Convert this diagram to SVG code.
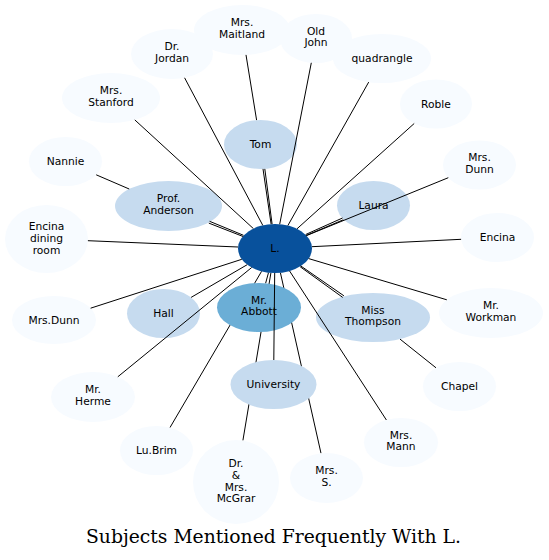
<svg xmlns="http://www.w3.org/2000/svg" width="549" height="560" viewBox="0 0 549 560">
<style>
.e{stroke:#000;stroke-width:1;fill:none}
.n0{fill:#f7fbff}
.n1{fill:#c6dbef}
.n2{fill:#6baed6}
.n3{fill:#08519c}
text{font-family:"DejaVu Sans","Noto Sans",sans-serif;font-size:10.7px;fill:#000;text-anchor:middle}
.t{font-family:"DejaVu Serif","Liberation Serif",serif;font-size:18px}
</style>
<rect width="549" height="560" fill="#fff"/>
<g id="connectors-back">
<line class="e" x1="270.9" y1="272.9" x2="242.9" y2="440.5"/>
<line class="e" x1="261.6" y1="271.3" x2="169.9" y2="427.7"/>
<line class="e" x1="268.5" y1="272.6" x2="265.6" y2="283.3"/>
<line class="e" x1="280.4" y1="272.7" x2="321.0" y2="453.3"/>
</g>
<g id="node-L"><ellipse class="n3" cx="275" cy="248.5" rx="37" ry="24.5"/><text x="275" y="252.3">L.</text></g>
<g id="node-Tom"><ellipse class="n1" cx="260.5" cy="144.5" rx="36.5" ry="24.5"/><text x="260.5" y="148.3">Tom</text></g>
<g id="node-Anderson"><ellipse class="n1" cx="168.5" cy="206" rx="53.5" ry="25"/><text x="168.5" y="202">Prof.<tspan x="168.5" dy="11.9">Anderson</tspan></text></g>
<g id="node-Laura"><ellipse class="n1" cx="373.5" cy="205.5" rx="36.5" ry="24.5"/><text x="373.5" y="209.3">Laura</text></g>
<g id="node-Thompson"><ellipse class="n1" cx="373" cy="317.5" rx="57" ry="24.5"/><text x="373" y="313.5">Miss<tspan x="373" dy="11.9">Thompson</tspan></text></g>
<g id="node-Abbott"><ellipse class="n2" cx="259" cy="307.5" rx="42" ry="24.5"/><text x="259" y="303.5">Mr.<tspan x="259" dy="11.9">Abbott</tspan></text></g>
<g id="node-Hall"><ellipse class="n1" cx="163.5" cy="313.5" rx="36.5" ry="24.5"/><text x="163.5" y="317.3">Hall</text></g>
<g id="node-University"><ellipse class="n1" cx="273.5" cy="384.5" rx="43" ry="24.5"/><text x="273.5" y="388.3">University</text></g>
<g id="node-Maitland"><ellipse class="n0" cx="242" cy="30" rx="48" ry="25"/><text x="242" y="26">Mrs.<tspan x="242" dy="11.9">Maitland</tspan></text></g>
<g id="node-Jordan"><ellipse class="n0" cx="172" cy="54" rx="41" ry="25"/><text x="172" y="50">Dr.<tspan x="172" dy="11.9">Jordan</tspan></text></g>
<g id="node-OldJohn"><ellipse class="n0" cx="316" cy="38.5" rx="36" ry="24.5"/><text x="316" y="34.5">Old<tspan x="316" dy="11.9">John</tspan></text></g>
<g id="node-quadrangle"><ellipse class="n0" cx="382" cy="58.5" rx="49" ry="24.5"/><text x="382" y="62.3">quadrangle</text></g>
<g id="node-Roble"><ellipse class="n0" cx="436" cy="104" rx="36" ry="24.5"/><text x="436" y="107.8">Roble</text></g>
<g id="node-Stanford"><ellipse class="n0" cx="111" cy="98" rx="49" ry="25"/><text x="111" y="94">Mrs.<tspan x="111" dy="11.9">Stanford</tspan></text></g>
<g id="node-Nannie"><ellipse class="n0" cx="65.5" cy="161.5" rx="36.5" ry="24.5"/><text x="65.5" y="165.3">Nannie</text></g>
<g id="node-EncinaDining"><ellipse class="n0" cx="46.5" cy="239" rx="41.5" ry="34"/><text x="46.5" y="230">Encina<tspan x="46.5" dy="11.9">dining</tspan><tspan x="46.5" dy="11.9">room</tspan></text></g>
<g id="node-MrsDunnR"><ellipse class="n0" cx="479.5" cy="165" rx="36.5" ry="24.5"/><text x="479.5" y="161">Mrs.<tspan x="479.5" dy="11.9">Dunn</tspan></text></g>
<g id="node-Encina"><ellipse class="n0" cx="497.5" cy="237.5" rx="36.5" ry="24.5"/><text x="497.5" y="241.3">Encina</text></g>
<g id="node-Workman"><ellipse class="n0" cx="491" cy="313" rx="52" ry="25"/><text x="491" y="309">Mr.<tspan x="491" dy="11.9">Workman</tspan></text></g>
<g id="node-MrsDunnL"><ellipse class="n0" cx="54" cy="320" rx="42" ry="24"/><text x="54" y="323.8">Mrs.Dunn</text></g>
<g id="node-Herme"><ellipse class="n0" cx="93" cy="397" rx="42" ry="25"/><text x="93" y="393">Mr.<tspan x="93" dy="11.9">Herme</tspan></text></g>
<g id="node-LuBrim"><ellipse class="n0" cx="156.5" cy="450.5" rx="36.5" ry="24.5"/><text x="156.5" y="454.3">Lu.Brim</text></g>
<g id="node-McGrar"><ellipse class="n0" cx="236" cy="482" rx="43" ry="42"/><text x="236" y="466.7">Dr.<tspan x="236" dy="11.9">&amp;</tspan><tspan x="236" dy="11.9">Mrs.</tspan><tspan x="236" dy="11.9">McGrar</tspan></text></g>
<g id="node-MrsS"><ellipse class="n0" cx="326.5" cy="478" rx="36.5" ry="25"/><text x="326.5" y="474">Mrs.<tspan x="326.5" dy="11.9">S.</tspan></text></g>
<g id="node-MrsMann"><ellipse class="n0" cx="401" cy="442.5" rx="37" ry="24.5"/><text x="401" y="438.5">Mrs.<tspan x="401" dy="11.9">Mann</tspan></text></g>
<g id="node-Chapel"><ellipse class="n0" cx="459.5" cy="386.5" rx="36.5" ry="24.5"/><text x="459.5" y="390.3">Chapel</text></g>
<g id="connectors">
<line class="e" x1="271.1" y1="224.1" x2="263.0" y2="168.9"/>
<line class="e" x1="272.1" y1="224.1" x2="264.8" y2="168.9"/>
<line class="e" x1="243.1" y1="236.5" x2="208.8" y2="223.1"/>
<line class="e" x1="243.5" y1="235.3" x2="209.6" y2="221.3"/>
<line class="e" x1="306.1" y1="235.5" x2="343.3" y2="219.8"/>
<line class="e" x1="305.7" y1="234.5" x2="342.5" y2="218.0"/>
<line class="e" x1="300.7" y1="265.9" x2="343.9" y2="295.8"/>
<line class="e" x1="300.1" y1="266.7" x2="342.7" y2="297.4"/>
<line class="e" x1="247.2" y1="264.7" x2="191.1" y2="297.4"/>
<line class="e" x1="274.7" y1="273.0" x2="273.8" y2="360.0"/>
<line class="e" x1="262.8" y1="225.4" x2="184.6" y2="77.8"/>
<line class="e" x1="256.6" y1="120.1" x2="246.0" y2="54.9"/>
<line class="e" x1="279.7" y1="224.2" x2="311.3" y2="62.8"/>
<line class="e" x1="287.9" y1="225.5" x2="368.7" y2="82.1"/>
<line class="e" x1="297.0" y1="228.8" x2="414.2" y2="123.5"/>
<line class="e" x1="253.4" y1="228.6" x2="134.8" y2="119.9"/>
<line class="e" x1="129.2" y1="189.0" x2="96.2" y2="174.8"/>
<line class="e" x1="238.1" y1="247.0" x2="87.9" y2="240.7"/>
<line class="e" x1="306.5" y1="235.6" x2="448.3" y2="177.7"/>
<line class="e" x1="311.9" y1="246.7" x2="461.1" y2="239.3"/>
<line class="e" x1="308.7" y1="258.6" x2="446.8" y2="299.8"/>
<line class="e" x1="400.0" y1="339.1" x2="436.0" y2="367.8"/>
<line class="e" x1="289.6" y1="271.0" x2="386.4" y2="420.0"/>
<line class="e" x1="251.7" y1="267.5" x2="117.8" y2="376.8"/>
<line class="e" x1="241.8" y1="259.3" x2="90.6" y2="308.2"/>
</g>
<text class="t" x="273.5" y="543" textLength="375" lengthAdjust="spacingAndGlyphs">Subjects Mentioned Frequently With L.</text>
</svg>
